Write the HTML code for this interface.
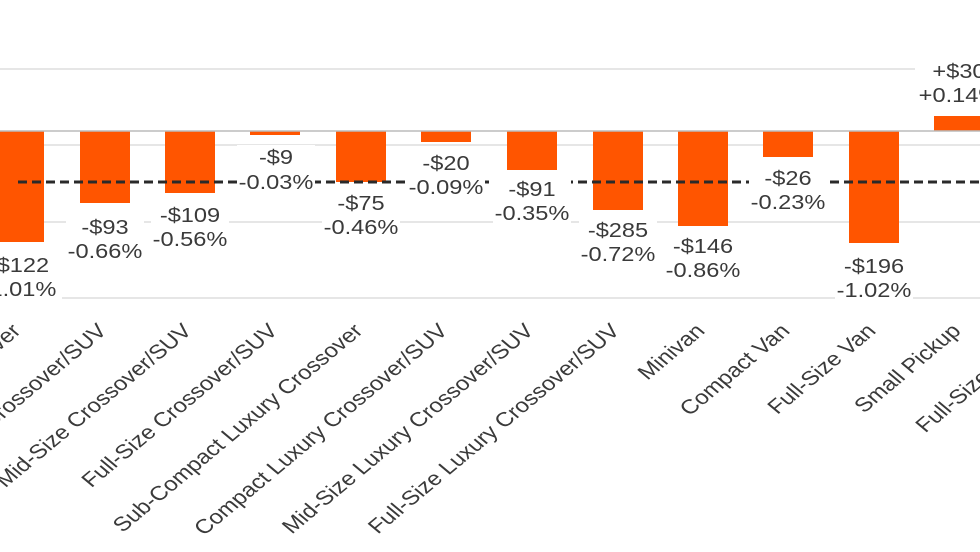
<!DOCTYPE html>
<html><head><meta charset="utf-8"><style>
html,body{margin:0;padding:0;background:#fff;}
svg{display:block;}
text{font-family:"Liberation Sans",Arial,sans-serif;fill:#3a3a3a;}
</style></head><body>
<svg width="980" height="552" viewBox="0 0 980 552" xmlns="http://www.w3.org/2000/svg">
<g stroke="#dedede" stroke-width="1.5">
<line x1="0" y1="69" x2="980" y2="69"/>
<line x1="0" y1="145" x2="980" y2="145"/>
<line x1="0" y1="222" x2="980" y2="222"/>
<line x1="0" y1="298" x2="980" y2="298"/>
</g>
<g fill="#ff5500">
<rect x="-6" y="131" width="50" height="111"/>
<rect x="80" y="131" width="50" height="72"/>
<rect x="165" y="131" width="50" height="62"/>
<rect x="250" y="131" width="50" height="4"/>
<rect x="336" y="131" width="50" height="51"/>
<rect x="421" y="131" width="50" height="11"/>
<rect x="507" y="131" width="50" height="39"/>
<rect x="593" y="131" width="50" height="79"/>
<rect x="678" y="131" width="50" height="95"/>
<rect x="763" y="131" width="50" height="26"/>
<rect x="849" y="131" width="50" height="112"/>
<rect x="934" y="116" width="50" height="15"/>
</g>
<line x1="0" y1="131" x2="980" y2="131" stroke="#bbb" stroke-width="1.5"/>
<line x1="18" y1="182" x2="980" y2="182" stroke="#2a2a2a" stroke-width="3" stroke-dasharray="9,5"/>
<g fill="#fff">
<rect x="0" y="252" width="62" height="50"/>
<rect x="66" y="214" width="78" height="50"/>
<rect x="151" y="202" width="78" height="50"/>
<rect x="237" y="145" width="78" height="50"/>
<rect x="322" y="190" width="78" height="50"/>
<rect x="407" y="150" width="78" height="50"/>
<rect x="493" y="176" width="78" height="50"/>
<rect x="579" y="217" width="78" height="50"/>
<rect x="664" y="233" width="78" height="50"/>
<rect x="749" y="165" width="78" height="50"/>
<rect x="835" y="252" width="78" height="50"/>
<rect x="915" y="57" width="65" height="50"/>
</g>
<g font-size="20" text-anchor="middle">
<g transform="translate(19,0) scale(1.18,1)"><text y="272">-$122</text><text y="296">-1.01%</text></g>
<g transform="translate(105,0) scale(1.18,1)"><text y="234">-$93</text><text y="258">-0.66%</text></g>
<g transform="translate(190,0) scale(1.18,1)"><text y="222">-$109</text><text y="246">-0.56%</text></g>
<g transform="translate(276,0) scale(1.18,1)"><text y="164">-$9</text><text y="189">-0.03%</text></g>
<g transform="translate(361,0) scale(1.18,1)"><text y="210">-$75</text><text y="234">-0.46%</text></g>
<g transform="translate(446,0) scale(1.18,1)"><text y="170">-$20</text><text y="194">-0.09%</text></g>
<g transform="translate(532,0) scale(1.18,1)"><text y="196">-$91</text><text y="220">-0.35%</text></g>
<g transform="translate(618,0) scale(1.18,1)"><text y="237">-$285</text><text y="261">-0.72%</text></g>
<g transform="translate(703,0) scale(1.18,1)"><text y="253">-$146</text><text y="277">-0.86%</text></g>
<g transform="translate(788,0) scale(1.18,1)"><text y="185">-$26</text><text y="209">-0.23%</text></g>
<g transform="translate(874,0) scale(1.18,1)"><text y="273">-$196</text><text y="297">-1.02%</text></g>
<g transform="translate(959,0) scale(1.18,1)"><text y="78">+$30</text><text y="102">+0.14%</text></g>
</g>
<g font-size="20" text-anchor="end">
<text transform="translate(22,332) scale(1.2,1) rotate(-45)">Subcompact Crossover</text>
<text transform="translate(108,332) scale(1.2,1) rotate(-45)">Compact Crossover/SUV</text>
<text transform="translate(193,332) scale(1.2,1) rotate(-45)">Mid-Size Crossover/SUV</text>
<text transform="translate(279,332) scale(1.2,1) rotate(-45)">Full-Size Crossover/SUV</text>
<text transform="translate(364,332) scale(1.2,1) rotate(-45)">Sub-Compact Luxury Crossover</text>
<text transform="translate(449,332) scale(1.2,1) rotate(-45)">Compact Luxury Crossover/SUV</text>
<text transform="translate(535,332) scale(1.2,1) rotate(-45)">Mid-Size Luxury Crossover/SUV</text>
<text transform="translate(621,332) scale(1.2,1) rotate(-45)">Full-Size Luxury Crossover/SUV</text>
<text transform="translate(706,332) scale(1.2,1) rotate(-45)">Minivan</text>
<text transform="translate(791,332) scale(1.2,1) rotate(-45)">Compact Van</text>
<text transform="translate(877,332) scale(1.2,1) rotate(-45)">Full-Size Van</text>
<text transform="translate(962,332) scale(1.2,1) rotate(-45)">Small Pickup</text>
<text transform="translate(1047,332) scale(1.2,1) rotate(-45)">Full-Size Pickup</text>
</g>
</svg>
</body></html>
